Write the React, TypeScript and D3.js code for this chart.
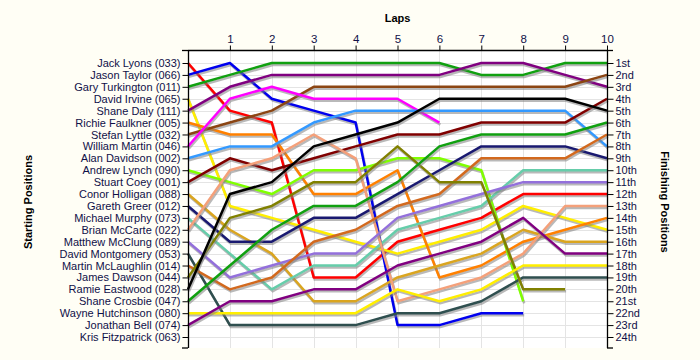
import { useEffect, useRef } from "react";
import * as d3 from "d3";

// starting grid, in starting order
const drivers = [
  "Jack Lyons (033)",
  "Jason Taylor (066)",
  "Gary Turkington (011)",
  "David Irvine (065)",
  "Shane Daly (111)",
  "Richie Faulkner (005)",
  "Stefan Lyttle (032)",
  "William Martin (046)",
  "Alan Davidson (002)",
  "Andrew Lynch (090)",
  "Stuart Coey (001)",
  "Conor Holligan (088)",
  "Gareth Greer (012)",
  "Michael Murphy (073)",
  "Brian McCarte (022)",
  "Matthew McClung (089)",
  "David Montgomery (053)",
  "Martin McLaughlin (014)",
  "James Dawson (044)",
  "Ramie Eastwood (028)",
  "Shane Crosbie (047)",
  "Wayne Hutchinson (080)",
  "Jonathan Bell (074)",
  "Kris Fitzpatrick (063)",
];

// position at lap 0..n for each driver (same order as drivers)
const positions: number[][] = [
  [1, 5, 6, 19, 19, 16, 15, 14, 12, 12, 12],
  [2, 1, 4, 5, 6, 23, 23, 22, 22],
  [3, 2, 1, 1, 1, 1, 1, 2, 2, 1, 1],
  [4, 13, 14, 15, 16, 17, 16, 15, 13, 14, 15],
  [5, 3, 2, 2, 2, 2, 2, 1, 1, 2, 3],
  [6, 7, 7, 12, 12, 10, 19, 18, 16, 15, 14],
  [7, 6, 5, 3, 3, 3, 3, 3, 3, 3, 2],
  [8, 4, 3, 4, 4, 4, 6],
  [9, 8, 8, 6, 5, 5, 5, 5, 5, 5, 8],
  [10, 11, 12, 10, 10, 9, 9, 10, 21],
  [11, 9, 10, 9, 8, 7, 7, 6, 6, 6, 4],
  [12, 15, 17, 21, 21, 19, 18, 17, 15, 16, 16],
  [13, 16, 16, 14, 14, 12, 10, 8, 8, 8, 9],
  [14, 17, 20, 18, 18, 15, 14, 13, 10, 10, 10],
  [15, 10, 9, 7, 9, 21, 20, 19, 17, 13, 13],
  [16, 19, 18, 17, 17, 14, 13, 12, 11, 11, 11],
  [17, 23, 23, 23, 23, 22, 22, 21, 19, 19, 19],
  [18, 20, 19, 16, 15, 13, 12, 9, 9, 9, 7],
  [19, 14, 13, 11, 11, 8, 11, 11, 20, 20],
  [20, 12, 11, 8, 7, 6, 4, 4, 4, 4, 5],
  [21, 18, 15, 13, 13, 11, 8, 7, 7, 7, 6],
  [22, 22, 22, 22, 22, 20, 21, 20, 18, 18, 18],
  [23, 21, 21, 20, 20, 18, 17, 16, 14, 17, 17],
  [],
];

const colors = [
  "#ff0000", "#0000ee", "#10a010", "#ffee00", "#800080", "#ff8000",
  "#8b4513", "#ff00ff", "#3399ff", "#80ff00", "#800000", "#daa520",
  "#191970", "#66cdaa", "#f4a07a", "#9370db", "#2f4f4f", "#d2691e",
  "#808000", "#000000", "#10a010", "#ffee00", "#800080", "#999999",
];

const laps = [1, 2, 3, 4, 5, 6, 7, 8, 9, 10];

const finishLabels = [
  "1st", "2nd", "3rd", "4th", "5th", "6th", "7th", "8th", "9th", "10th",
  "11th", "12th", "13th", "14th", "15th", "16th", "17th", "18th", "19th",
  "20th", "21st", "22nd", "23rd", "24th",
];

export default function App() {
  const ref = useRef<SVGSVGElement | null>(null);

  useEffect(() => {
    const width = 700,
      height = 360;
    const left = 188,
      right = 607,
      top = 50,
      bottom = 348;
    const font = "'Liberation Sans', Arial, sans-serif";
    const ink = "#101048";

    const svg = d3.select(ref.current);
    svg.selectAll("*").remove();

    svg.append("rect").attr("width", width).attr("height", height).attr("fill", "#fffef5");
    svg
      .append("rect")
      .attr("x", left)
      .attr("y", top)
      .attr("width", right - left)
      .attr("height", bottom - top)
      .attr("fill", "#ffffff");

    const x = d3.scaleLinear().domain([0, 10]).range([left, right]);
    const y = d3.scaleLinear().domain([1, 24]).range([63, 337]);
    const ranks = d3.range(1, 25);

    // grid
    const grid = svg.append("g").attr("stroke", "#e4e4e4").attr("stroke-width", 1);
    grid
      .selectAll("line.h")
      .data(ranks)
      .enter()
      .append("line")
      .attr("x1", left)
      .attr("x2", right)
      .attr("y1", d => Math.round(y(d)) + 0.5)
      .attr("y2", d => Math.round(y(d)) + 0.5);
    grid
      .selectAll("line.v")
      .data(laps.slice(0, -1))
      .enter()
      .append("line")
      .attr("x1", d => Math.round(x(d)) + 0.5)
      .attr("x2", d => Math.round(x(d)) + 0.5)
      .attr("y1", top)
      .attr("y2", bottom);

    // lines, each with a soft drop shadow
    const line = d3
      .line<number>()
      .x((_, i) => x(i))
      .y(d => y(d));

    positions.forEach((p, i) => {
      if (p.length < 2) return;
      svg
        .append("path")
        .datum(p)
        .attr("fill", "none")
        .attr("stroke", "#808080")
        .attr("stroke-opacity", 0.55)
        .attr("stroke-width", 2.5)
        .attr("transform", "translate(1,2)")
        .attr("d", line);
      svg
        .append("path")
        .datum(p)
        .attr("fill", "none")
        .attr("stroke", colors[i])
        .attr("stroke-width", 2.5)
        .attr("stroke-linejoin", "round")
        .attr("d", line);
    });

    // left axis: starting positions
    const yLeft = d3
      .axisLeft(y)
      .tickValues(ranks)
      .tickSize(6)
      .tickPadding(2)
      .tickFormat(d => drivers[(d as number) - 1]);
    const gl = svg.append("g").attr("transform", `translate(${left + 0.5},0)`).call(yLeft);
    gl.select(".domain").remove();

    // right axis: finishing positions
    const yRight = d3
      .axisRight(y)
      .tickValues(ranks)
      .tickSize(6)
      .tickPadding(2)
      .tickFormat(d => finishLabels[(d as number) - 1]);
    const gr = svg.append("g").attr("transform", `translate(${right + 0.5},0)`).call(yRight);
    gr.select(".domain").remove();

    // top axis: laps
    const xTop = d3.axisTop(x).tickValues(laps).tickSize(5).tickPadding(3).tickFormat(d3.format("d"));
    const gt = svg.append("g").attr("transform", `translate(0,${top + 0.5})`).call(xTop);
    gt.select(".domain").remove();

    [gl, gr, gt].forEach(g => {
      g.selectAll("line").attr("stroke", "#000");
      g.selectAll("text").attr("fill", ink).attr("font-family", font).attr("font-size", 11);
    });
    gt.selectAll("text").attr("font-size", 11.5);

    // axis frame lines
    const frame = svg.append("g").attr("stroke", "#000").attr("stroke-width", 1.3);
    frame.append("line").attr("x1", left + 0.5).attr("x2", left + 0.5).attr("y1", top).attr("y2", bottom);
    frame.append("line").attr("x1", right + 0.5).attr("x2", right + 0.5).attr("y1", top).attr("y2", bottom);
    frame.append("line").attr("x1", left).attr("x2", right).attr("y1", top + 0.5).attr("y2", top + 0.5);
    frame.append("line").attr("x1", left - 6).attr("x2", left).attr("y1", top + 0.5).attr("y2", top + 0.5);
    frame.append("line").attr("x1", left - 6).attr("x2", left).attr("y1", bottom).attr("y2", bottom);
    frame.append("line").attr("x1", right).attr("x2", right + 6).attr("y1", top + 0.5).attr("y2", top + 0.5);
    frame.append("line").attr("x1", right).attr("x2", right + 6).attr("y1", bottom).attr("y2", bottom);

    // titles
    svg
      .append("text")
      .attr("x", (left + right) / 2)
      .attr("y", 22)
      .attr("text-anchor", "middle")
      .attr("font-family", font)
      .attr("font-weight", "bold")
      .attr("font-size", 11)
      .text("Laps");
    svg
      .append("text")
      .attr("transform", "translate(32,202) rotate(-90)")
      .attr("text-anchor", "middle")
      .attr("font-family", font)
      .attr("font-weight", "bold")
      .attr("font-size", 11)
      .text("Starting Positions");
    svg
      .append("text")
      .attr("transform", "translate(661,202) rotate(90)")
      .attr("text-anchor", "middle")
      .attr("font-family", font)
      .attr("font-weight", "bold")
      .attr("font-size", 11)
      .text("Finishing Positions");
  }, []);

  return (
    <svg
      ref={ref}
      width={700}
      height={360}
      style={{ position: "absolute", left: 0, top: 0, display: "block" }}
    />
  );
}
